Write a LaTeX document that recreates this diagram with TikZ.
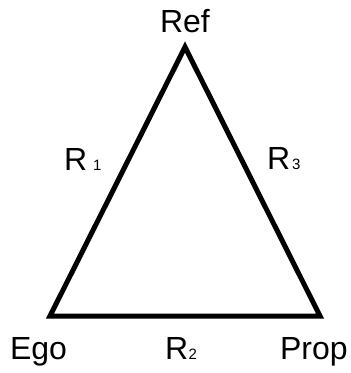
\documentclass[tikz,border=0pt]{standalone}
\usepackage{fontspec}
\setmainfont{Liberation Sans}
\newcommand{\bigtxt}{\fontsize{32}{32}\selectfont}
\newcommand{\subtxt}{\fontsize{15}{15}\selectfont}
\begin{document}
\begin{tikzpicture}[x=1pt,y=-1pt,
  lbl/.style={inner sep=0pt,outer sep=0pt,anchor=base west,font=\bigtxt},
  side/.style={line width=5pt,line join=miter,draw=black}]
\useasboundingbox (0,0) rectangle (351,373);
\coordinate (apex) at (185,47);
\coordinate (bl) at (50,316);
\coordinate (br) at (320,316);
\draw[side] (apex) -- (bl) -- (br) -- cycle;
\node[lbl] (ref) at (160,32) {Ref};
\node[lbl] (ego) at (10,359) {Ego};
\node[lbl] (prop) at (280,359) {Prop};
\node[lbl] (r1) at (64,170) {R\hspace{6pt}{\subtxt 1}};
\node[lbl] (r3) at (267,169) {R\hspace{2pt}{\subtxt 3}};
\node[lbl] (r2) at (165,359) {R\hspace{0.5pt}{\subtxt 2}};
\end{tikzpicture}
\end{document}
